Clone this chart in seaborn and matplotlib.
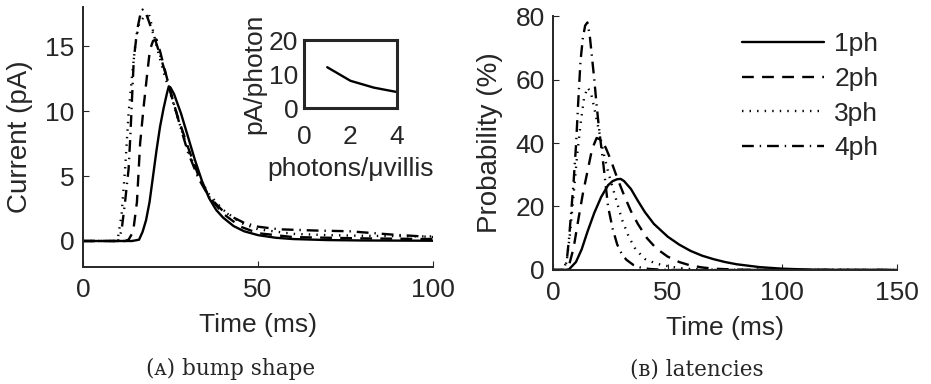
import numpy as np
import pandas as pd
import matplotlib
matplotlib.use("Agg")
import matplotlib.pyplot as plt
import seaborn as sns

# (A) bump shape: current (pA) vs time (ms)
t_1ph = [0, 14, 16, 17, 18, 19, 20, 21, 22, 23, 24, 24.5, 25, 26, 28, 30, 32, 34, 36, 38, 40, 43, 46, 50, 55, 60, 70, 80, 100]
i_1ph = [0, 0, 0.1, 0.7, 1.6, 3.0, 5.0, 7.0, 8.8, 10.2, 11.4, 11.9, 11.8, 11.3, 9.8, 8.0, 6.2, 4.6, 3.3, 2.4, 1.8, 1.15, 0.75, 0.45, 0.25, 0.15, 0.07, 0.04, 0.02]
t_2ph = [0, 12, 13, 14.3, 15.4, 16.3, 17.3, 18.3, 19.1, 20, 21, 22, 24, 25, 27, 30, 33, 36, 40, 45, 50, 60, 80, 100]
i_2ph = [0, 0, 0.1, 0.7, 3.0, 7.5, 10.3, 12.8, 14.7, 15.4, 15.5, 14.6, 12.5, 11.4, 9.6, 7.2, 5.0, 3.4, 2.1, 1.1, 0.6, 0.3, 0.2, 0.15]
t_3ph = [0, 9, 10, 11, 12, 13, 14, 15, 16, 17.5, 19, 21, 23, 25, 27, 30, 33, 36, 40, 45, 50, 60, 70, 80, 100]
i_3ph = [0, 0, 0.3, 2.0, 5.5, 9.8, 12.7, 15.3, 16.7, 17.3, 17.3, 15.0, 13.0, 11.3, 9.5, 7.0, 5.0, 3.6, 2.4, 1.4, 0.9, 0.55, 0.45, 0.4, 0.35]
t_4ph = [0, 10, 11, 12, 13, 13.5, 14, 14.5, 15.5, 16.5, 17, 18, 20, 22, 24, 26, 28, 30, 33, 36, 40, 43, 46, 50, 56, 67, 76, 88, 100]
i_4ph = [0, 0, 0.8, 3.0, 5.5, 8.0, 11.0, 14.0, 16.3, 17.6, 17.8, 17.5, 16.0, 14.3, 12.5, 10.5, 8.6, 6.8, 4.8, 3.4, 2.3, 1.8, 1.4, 1.1, 0.9, 0.8, 0.75, 0.5, 0.3]

# inset: amplitude per photon
n_photons = [1, 2, 3, 4]
pa_per_photon = [12.0, 8.0, 6.0, 4.7]

# (B) latencies: probability (%) vs time (ms)
lt_1ph = [0, 5, 7, 10, 12.5, 15, 18, 21, 24, 26, 28, 29.5, 31, 34, 37, 40, 44, 50, 55, 60, 65, 70, 75, 80, 90, 100, 110, 120, 150]
p_1ph = [0, 0, 0.2, 2.5, 6.5, 12.0, 18.0, 23.0, 26.7, 28.0, 28.6, 28.7, 28.0, 25.5, 21.8, 18.3, 14.5, 10.5, 8.0, 6.0, 4.5, 3.4, 2.5, 1.8, 0.9, 0.4, 0.15, 0.05, 0]
lt_2ph = [0, 5, 7, 9, 11, 13, 15, 17, 19, 21, 23, 25, 28, 31, 34, 37, 41, 45, 50, 55, 60, 65, 70, 80, 100, 150]
p_2ph = [0, 0, 1.5, 7.0, 15.7, 24.0, 31.0, 38.0, 41.6, 41.0, 38.5, 35.0, 29.0, 23.5, 18.5, 14.5, 10.0, 6.8, 4.2, 2.5, 1.4, 0.8, 0.4, 0.1, 0, 0]
lt_3ph = [0, 4.5, 6, 7.5, 9, 10.5, 12, 13.5, 15, 16.5, 18, 20, 22, 24, 26, 28, 30, 33, 36, 40, 45, 50, 55, 60, 70, 150]
p_3ph = [0, 0, 3.0, 12.0, 24.0, 36.0, 46.0, 54.0, 57.5, 56.0, 51.0, 44.0, 37.0, 31.0, 26.0, 21.0, 16.0, 10.5, 6.5, 3.5, 2.0, 1.2, 0.6, 0.3, 0.1, 0]
lt_4ph = [0, 5, 6, 7, 8, 9, 10, 11, 12, 13, 14, 15, 16, 17, 18, 19, 20, 21, 22, 24, 26, 28, 30, 32, 35, 38, 42, 50, 150]
p_4ph = [0, 0, 3.0, 10.0, 19.0, 28.0, 39.0, 53.0, 66.0, 73.0, 77.0, 78.0, 74.0, 67.0, 60.0, 52.0, 45.0, 39.0, 33.0, 20.0, 13.0, 8.0, 5.0, 3.2, 1.6, 0.8, 0.3, 0, 0]

labels = ["1ph", "2ph", "3ph", "4ph"]
styles = {
    "1ph": "-",
    "2ph": (0, (5, 3.5)),
    "3ph": (0, (0.6, 2.6)),
    "4ph": (0, (5, 2.5, 0.6, 2.5)),
}

sns.set_style("ticks")
plt.rcParams["font.family"] = ["Liberation Sans", "DejaVu Sans"]
plt.rcParams["font.size"] = 19
plt.rcParams["axes.linewidth"] = 1.4
plt.rcParams["xtick.direction"] = "in"
plt.rcParams["ytick.direction"] = "in"
plt.rcParams["xtick.major.size"] = 4
plt.rcParams["ytick.major.size"] = 4
plt.rcParams["xtick.major.pad"] = 8
plt.rcParams["ytick.major.pad"] = 6

fig = plt.figure(figsize=(9.31, 3.84), dpi=100)
ax_a = fig.add_axes([0.0892, 0.3047, 0.376, 0.677])
ax_b = fig.add_axes([0.594, 0.297, 0.3695, 0.661])
ax_in = fig.add_axes([0.3265, 0.71875, 0.0999, 0.177])

lw = 1.7
bump = {"1ph": (t_1ph, i_1ph), "2ph": (t_2ph, i_2ph), "3ph": (t_3ph, i_3ph), "4ph": (t_4ph, i_4ph)}
lat = {"1ph": (lt_1ph, p_1ph), "2ph": (lt_2ph, p_2ph), "3ph": (lt_3ph, p_3ph), "4ph": (lt_4ph, p_4ph)}

for name in labels:
    x, y = bump[name]
    sns.lineplot(x=x, y=y, ax=ax_a, color="black", lw=lw, linestyle=styles[name])
    x, y = lat[name]
    sns.lineplot(x=x, y=y, ax=ax_b, color="black", lw=lw, linestyle=styles[name], label=name)

# panel A
ax_a.set_xlim(0, 100)
ax_a.set_ylim(-2, 18)
ax_a.set_xticks([0, 50, 100])
ax_a.set_yticks([0, 5, 10, 15])
ax_a.set_xlabel("Time (ms)", labelpad=8)
ax_a.set_ylabel("Current (pA)", labelpad=9, fontsize=20)
sns.despine(ax=ax_a)

# inset
sns.lineplot(x=n_photons, y=pa_per_photon, ax=ax_in, color="black", lw=lw)
ax_in.set_xlim(0, 4)
ax_in.set_ylim(0, 20)
ax_in.set_xticks([0, 2, 4])
ax_in.set_yticks([0, 10, 20])
ax_in.tick_params(axis="y", length=0, pad=4)
ax_in.tick_params(axis="x", length=0, pad=12)
for s in ax_in.spines.values():
    s.set_linewidth(2.2)
ax_in.set_xlabel("photons/\u03bcvillis", labelpad=6)
ax_in.set_ylabel("pA/photon", labelpad=2)

# panel B
ax_b.set_xlim(0, 150)
ax_b.set_ylim(0, 80)
ax_b.set_xticks([0, 50, 100, 150])
ax_b.set_yticks([0, 20, 40, 60, 80])
ax_b.set_xlabel("Time (ms)", labelpad=8)
ax_b.set_ylabel("Probability (%)", labelpad=9, fontsize=20)
sns.despine(ax=ax_b)
ax_b.legend(loc="upper right", bbox_to_anchor=(0.977, 0.979), frameon=False,
            handlelength=3.1, handletextpad=0.4, labelspacing=0.41, borderaxespad=0)

# captions
fig.text(0.248, 0.039, "(\u1d00) bump shape", ha="center", va="center",
         family=["DejaVu Serif"], fontsize=15.5)
fig.text(0.748, 0.039, "(\u0299) latencies", ha="center", va="center",
         family=["DejaVu Serif"], fontsize=15.5)

fig.savefig("out.png", dpi=100)
